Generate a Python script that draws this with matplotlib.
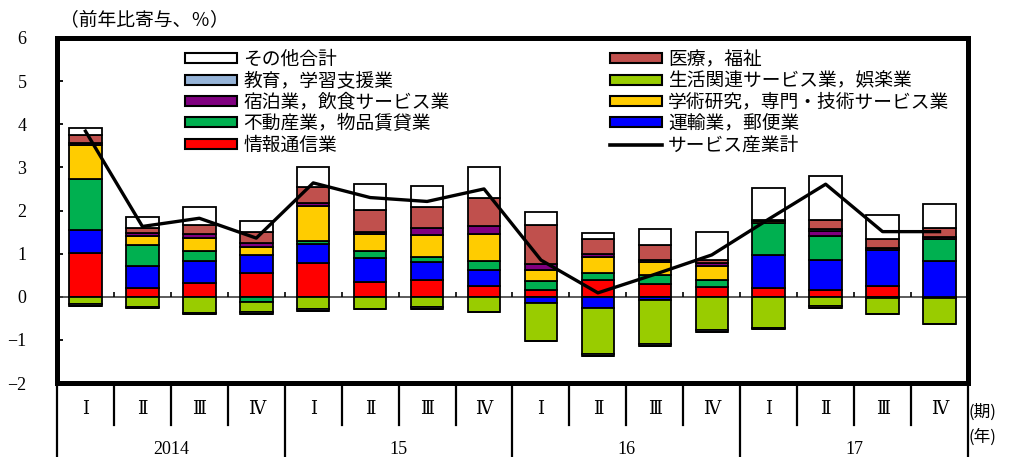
import numpy as np
import matplotlib
matplotlib.use("Agg")
import matplotlib.pyplot as plt
from matplotlib.patches import Patch
from matplotlib.lines import Line2D

# Data: contributions to y/y growth, 2014 Q1 .. 2017 Q4
quarters = ["Ⅰ", "Ⅱ", "Ⅲ", "Ⅳ"] * 4
years = ["2014", "15", "16", "17"]

info_comm = [1.01, 0.20, 0.31, 0.54, 0.79, 0.35, 0.40, 0.25, 0.16, 0.39, 0.30, 0.23, 0.20, 0.15, 0.25, -0.04]
transport = [0.54, 0.52, 0.53, 0.42, 0.43, 0.55, 0.41, 0.36, -0.14, -0.26, -0.08, 0.00, 0.76, 0.71, 0.83, 0.84]
real_estate = [1.19, 0.47, 0.21, -0.12, 0.07, 0.15, 0.12, 0.21, 0.20, 0.17, 0.20, 0.15, 0.75, 0.54, -0.04, 0.50]
living = [-0.17, -0.23, -0.37, -0.24, -0.29, -0.28, -0.24, -0.36, -0.88, -1.07, -1.02, -0.77, -0.72, -0.22, -0.37, -0.60]
academic = [0.77, 0.21, 0.31, 0.19, 0.81, 0.41, 0.50, 0.64, 0.27, 0.37, 0.30, 0.33, 0.05, -0.04, 0.00, 0.00]
hotel = [0.06, 0.08, 0.10, 0.10, 0.08, 0.05, 0.17, 0.19, 0.14, 0.05, 0.06, 0.08, 0.02, 0.12, 0.05, 0.05]
education = [-0.04, -0.04, -0.04, -0.04, -0.04, 0.00, -0.04, 0.00, 0.00, -0.04, -0.04, -0.04, -0.03, 0.06, 0.00, 0.00]
medical = [0.19, 0.12, 0.21, 0.25, 0.37, 0.50, 0.47, 0.65, 0.90, 0.35, 0.35, 0.06, 0.00, 0.21, 0.22, 0.21]
others = [0.15, 0.25, 0.40, 0.25, 0.45, 0.60, 0.50, 0.70, 0.30, 0.15, 0.35, 0.65, 0.75, 1.00, 0.55, 0.55]
service_total = [3.84, 1.63, 1.82, 1.36, 2.64, 2.30, 2.21, 2.50, 0.85, 0.09, 0.52, 0.97, 1.80, 2.61, 1.51, 1.51]

# stacking order (bottom -> top), with colours
series = [
    ("情報通信業", info_comm, "#FF0000"),
    ("運輸業，郵便業", transport, "#0000FF"),
    ("不動産業，物品賃貸業", real_estate, "#00B050"),
    ("生活関連サービス業，娯楽業", living, "#99CC00"),
    ("学術研究，専門・技術サービス業", academic, "#FFCC00"),
    ("宿泊業，飲食サービス業", hotel, "#800080"),
    ("教育，学習支援業", education, "#95B3D7"),
    ("医療，福祉", medical, "#C0504D"),
    ("その他合計", others, "#FFFFFF"),
]
colors = {name: c for name, _, c in series}

JP = ["Noto Sans CJK JP", "DejaVu Sans"]
NUM = ["Liberation Serif", "DejaVu Serif", "Noto Sans CJK JP"]

W, H = 1012, 457
fig = plt.figure(figsize=(W / 100, H / 100), dpi=100)
ax = fig.add_axes([57 / W, 1 - 383 / H, (968 - 57) / W, (383 - 38) / H])

x = np.arange(len(quarters))
pos_base = np.zeros(len(x))
neg_base = np.zeros(len(x))
for name, vals, c in series:
    v = np.array(vals)
    pos = np.where(v > 0, v, 0)
    neg = np.where(v < 0, v, 0)
    ax.bar(x, pos, 0.57, bottom=pos_base, color=c, edgecolor="black", linewidth=1.3, zorder=3)
    ax.bar(x, neg, 0.57, bottom=neg_base, color=c, edgecolor="black", linewidth=1.3, zorder=3)
    pos_base += pos
    neg_base += neg

ax.plot(x, service_total, color="black", lw=2.4, zorder=5)

# zero line with small ticks between quarters
ax.axhline(0, color="#404040", lw=1.2, zorder=2)
ax.vlines(np.arange(0.5, 15.5, 1), 0, 0.12, color="black", lw=1.2, zorder=2)

ax.set_xlim(-0.5, 15.5)
ax.set_ylim(-2, 6)
ax.set_yticks(range(-2, 7))
ax.set_xticks([])
ax.tick_params(axis="y", direction="in", length=4, width=1.3, pad=22)
for lab in ax.get_yticklabels():
    lab.set_family(NUM)
    lab.set_fontsize(13)
for s in ax.spines.values():
    s.set_linewidth(3.6)

# category table below the plot
tr = ax.get_xaxis_transform()
q_bottom = -(425 - 383) / 345
f_bottom = -(457 - 383) / 345
for b in np.arange(-0.5, 16, 1):
    yb = f_bottom if (b + 0.5) % 4 == 0 else q_bottom
    ax.add_line(Line2D([b, b], [0, yb], transform=tr, color="black", lw=1.6, clip_on=False))
for i, q in enumerate(quarters):
    ax.text(i, -(410 - 383) / 345, q, transform=tr, ha="center", va="center",
            family=NUM, fontsize=13)
for k, yr in enumerate(years):
    ax.text(4 * k + 1.5, -(449 - 383) / 345, yr, transform=tr, ha="center", va="center",
            family=NUM, fontsize=13)
fig.text(969 / W, 1 - 412 / H, "(期)", family=JP, fontsize=12, ha="left", va="center")
fig.text(969 / W, 1 - 437 / H, "(年)", family=JP, fontsize=12, ha="left", va="center")

fig.text(60 / W, 1 - 20 / H, "（前年比寄与、％）", family=JP, fontsize=13.5, ha="left", va="center")

# legends (two columns)
def patch(name):
    return Patch(facecolor=colors[name], edgecolor="black", linewidth=1.5)

left_names = ["その他合計", "教育，学習支援業", "宿泊業，飲食サービス業", "不動産業，物品賃貸業", "情報通信業"]
right_names = ["医療，福祉", "生活関連サービス業，娯楽業", "学術研究，専門・技術サービス業", "運輸業，郵便業"]

leg_kw = dict(loc="upper left", frameon=False, borderpad=0, borderaxespad=0,
              handlelength=2.8, handleheight=0.45, handletextpad=0.3, labelspacing=0.02,
              prop={"family": JP, "size": 13.5}, bbox_transform=fig.transFigure)
leg1 = ax.legend([patch(n) for n in left_names], left_names,
                 bbox_to_anchor=(185 / W, 1 - 49 / H), **leg_kw)
ax.add_artist(leg1)
right_handles = [patch(n) for n in right_names] + [Line2D([], [], color="black", lw=2.6)]
ax.legend(right_handles, right_names + ["サービス産業計"],
          bbox_to_anchor=(610 / W, 1 - 49 / H), **leg_kw)

fig.savefig("out.png", dpi=100)
